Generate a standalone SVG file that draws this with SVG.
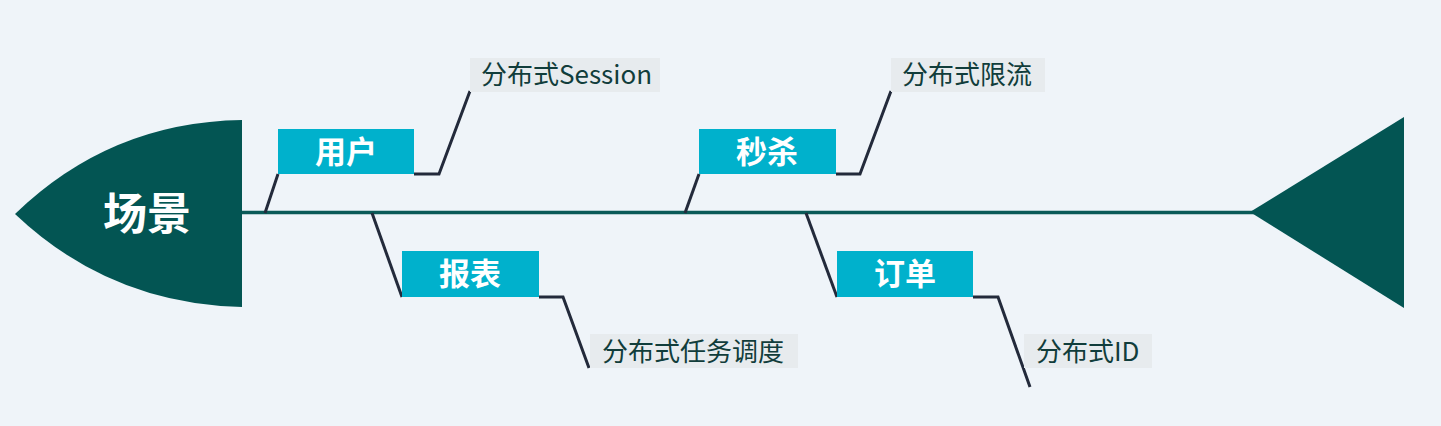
<svg xmlns="http://www.w3.org/2000/svg" width="1441" height="426" viewBox="0 0 1441 426">
<style>
.bg{fill:#eff4f9}
.fish{fill:#035553}
.spine{stroke:#0a5a58;stroke-width:3.5;fill:none}
.bone{stroke:#232a3b;stroke-width:3;fill:none;stroke-linejoin:miter}
.box{fill:#00b1cc}
.lbl{fill:#e7ebee}
.bt{font-family:"Noto Sans CJK SC","Noto Sans",sans-serif;font-size:31px;font-weight:700;fill:#ffffff;text-anchor:middle}
.ht{font-family:"Noto Sans CJK SC","Noto Sans",sans-serif;font-size:44px;font-weight:700;fill:#ffffff;text-anchor:middle}
.lt{font-family:"Noto Sans CJK SC","Noto Sans",sans-serif;font-size:26px;font-weight:400;fill:#113d3b}
</style>
<rect class="bg" x="0" y="0" width="1441" height="426"/>
<g id="connectors">
<line class="spine" x1="240" y1="212.5" x2="1256" y2="212.5"/>
<polyline class="bone" points="265,213 278,174"/>
<polyline class="bone" points="414,174 439,174 470,91"/>
<polyline class="bone" points="372,213 402,297"/>
<polyline class="bone" points="539,297 563,297 589,368"/>
<polyline class="bone" points="685,213 699,174"/>
<polyline class="bone" points="836,174 860,174 891,91"/>
<polyline class="bone" points="806,213 837,297"/>
<polyline class="bone" points="973,297 998,297 1030,387"/>
</g>
<g id="head">
<path class="fish" d="M242,120 Q110,122 15,214 Q110,304 242,307 Z"/>
<text class="ht" x="147" y="230">场景</text>
</g>
<g id="tail">
<polygon class="fish" points="1250,212 1404,117 1404,308"/>
</g>
<g id="n-yonghu">
<rect class="box" x="278" y="129" width="136" height="45"/>
<text class="bt" x="346" y="163">用户</text>
</g>
<g id="n-session">
<rect class="lbl" x="470" y="58" width="190" height="34"/>
<text class="lt" x="481" y="84">分布式Session</text>
</g>
<g id="n-baobiao">
<rect class="box" x="402" y="251" width="137" height="46"/>
<text class="bt" x="470" y="285">报表</text>
</g>
<g id="n-renwu">
<rect class="lbl" x="590" y="334" width="208" height="34"/>
<text class="lt" x="602" y="361">分布式任务调度</text>
</g>
<g id="n-miaosha">
<rect class="box" x="699" y="129" width="137" height="45"/>
<text class="bt" x="767" y="163">秒杀</text>
</g>
<g id="n-xianliu">
<rect class="lbl" x="891" y="58" width="154" height="34"/>
<text class="lt" x="902" y="84">分布式限流</text>
</g>
<g id="n-dingdan">
<rect class="box" x="837" y="251" width="136" height="46"/>
<text class="bt" x="905" y="285">订单</text>
</g>
<g id="n-id">
<rect class="lbl" x="1024" y="334" width="128" height="34"/>
<text class="lt" x="1036" y="361">分布式ID</text>
</g>
</svg>
